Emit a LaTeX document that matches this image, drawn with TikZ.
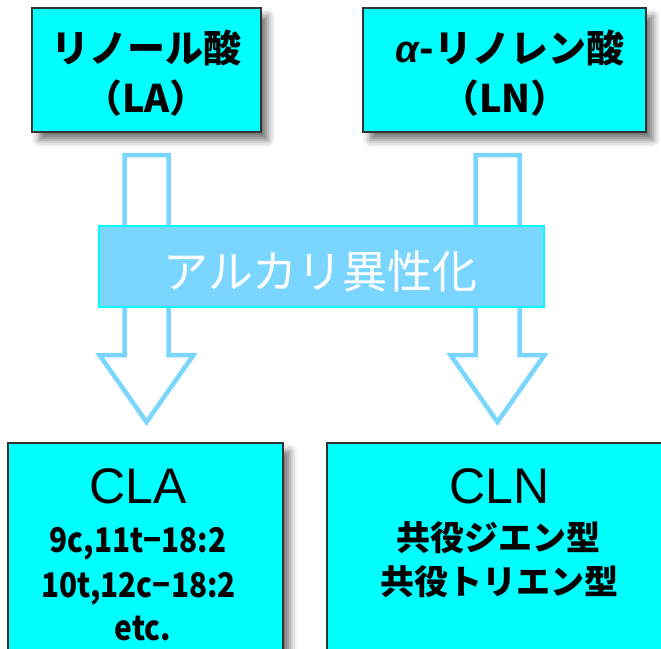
\documentclass[tikz,border=0pt]{standalone}
\usepackage{fontspec}
\setmainfont{Noto Sans CJK JP}
\newfontfamily\greekfont{Liberation Sans}
\newfontfamily\narrowfont[FakeStretch=0.875]{Noto Sans CJK JP}
\usetikzlibrary{shadows.blur}
\definecolor{boxcyan}{RGB}{0,255,255}
\definecolor{paleblue}{RGB}{122,214,255}
\definecolor{edgegray}{RGB}{51,51,51}
\begin{document}
\begin{tikzpicture}[x=1pt,y=-1pt,inner sep=0pt,outer sep=0pt,
acidbox/.style={draw=edgegray,line width=1.2pt,fill=boxcyan,rectangle,
  blur shadow={shadow xshift=7pt,shadow yshift=-8pt,shadow blur radius=7pt,shadow opacity=55}},
hollow/.style={draw=paleblue,line width=4.5pt,fill=white,line join=miter},
toptxt/.style={font=\fontsize{38}{38}\selectfont\bfseries},
bandtxt/.style={font=\fontsize{45}{45}\selectfont,text=white},
cltitle/.style={font=\greekfont\fontsize{50}{50}\selectfont,anchor=base},
subtxt/.style={font=\fontsize{34}{34}\selectfont\bfseries},
codetxt/.style={font=\narrowfont\fontsize{34}{34}\selectfont\bfseries,anchor=base}]
\clip (0,0) rectangle (661,648);
% starting acids
\draw (146.5,70) node[acidbox,minimum width=229pt,minimum height=124pt] (la) {};
\draw (504.5,70) node[acidbox,minimum width=283pt,minimum height=124pt] (ln) {};
\node[toptxt] (latxt) at (146.5,48) {リノール酸};
\node[toptxt] (laabbr) at (146,98) {（LA）};
\node[toptxt] (lntxt) at (510,48) {{\greekfont\itshape α}-リノレン酸};
\node[toptxt] (lnabbr) at (505,98) {（LN）};
% products
\draw (145.5,568) node[acidbox,minimum width=275pt,minimum height=250pt] (cla) {};
\draw (499,568) node[acidbox,minimum width=344pt,minimum height=250pt] (cln) {};
\node[cltitle] (clatxt) at (138.5,503) {CLA};
\node[codetxt] (cla1) at (138,552) {9c,11t−18:2};
\node[codetxt] (cla2) at (138.5,597) {10t,12c−18:2};
\node[codetxt] (cla3) at (143,640) {etc.};
\node[cltitle] (clntxt) at (499.5,503) {CLN};
\node[subtxt] (cln1) at (498,538) {共役ジエン型};
\node[subtxt] (cln2) at (499,582) {共役トリエン型};
% hollow arrows
\draw[hollow] (la.south) ++(-22,23) -- ++(0,200) -- ++(-25,0) -- ++(47,67) -- ++(47,-67) -- ++(-25,0) -- ++(0,-200) -- cycle;
\draw[hollow] (ln.south) ++(-29,23) -- ++(0,200) -- ++(-25,0) -- ++(47,67) -- ++(47,-67) -- ++(-25,0) -- ++(0,-200) -- cycle;
% isomerisation band
\draw (321.5,266.5) node[draw=boxcyan,line width=1.5pt,fill=paleblue,minimum width=445pt,minimum height=81pt] (alk) {};
\node[bandtxt] (alktxt) at (320.5,271) {アルカリ異性化};
\end{tikzpicture}
\end{document}
